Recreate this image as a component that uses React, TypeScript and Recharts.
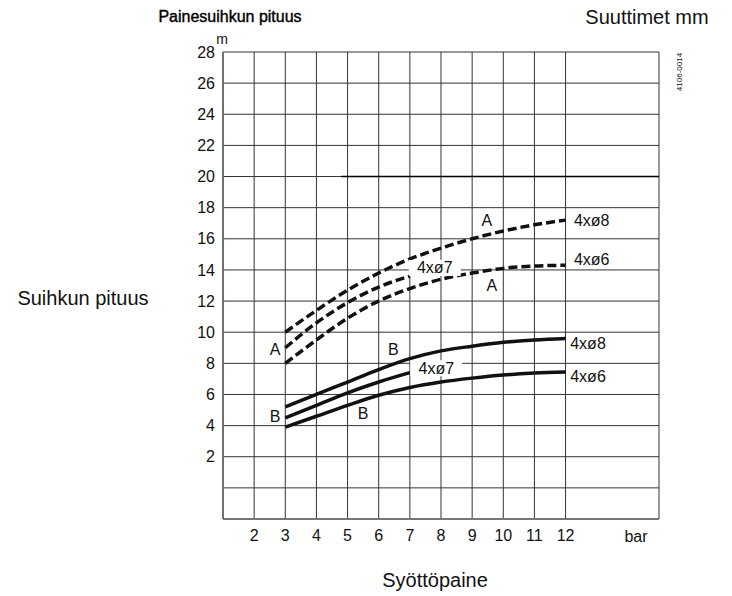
import React from 'react';
import { LineChart, Line, XAxis, YAxis, CartesianGrid, ReferenceLine, ReferenceDot } from 'recharts';

// Pressure (bar)
const pressures = [3, 4, 5, 6, 7, 8, 9, 10, 11, 12];
// Curve A (dashed)
const a8 = [10.0, 11.4, 12.7, 13.8, 14.7, 15.4, 16.0, 16.5, 16.9, 17.2];
const a7 = [9.0, 10.6, 11.9, 12.9, 13.6];
const a6 = [8.0, 9.5, 10.9, 12.0, 12.8, 13.4, 13.8, 14.1, 14.25, 14.3];
// Curve B (solid)
const b8 = [5.2, 6.0, 6.8, 7.6, 8.3, 8.8, 9.1, 9.35, 9.5, 9.6];
const b7 = [4.5, 5.3, 6.1, 6.8, 7.4];
const b6 = [3.9, 4.6, 5.3, 5.95, 6.45, 6.8, 7.05, 7.25, 7.38, 7.45];

const xTicks = [1, 2, 3, 4, 5, 6, 7, 8, 9, 10, 11, 12, 15];
const yTicks = [-2, 0, 2, 4, 6, 8, 10, 12, 14, 16, 18, 20, 22, 24, 26, 28];
const limitLine = [{ x: 4.8, y: 20 }, { x: 15, y: 20 }];

const curveLabels = [
  { x: 2.67, y: 8.86, text: 'A', bg: false },
  { x: 9.47, y: 17.2, text: 'A', bg: false },
  { x: 9.63, y: 13.03, text: 'A', bg: false },
  { x: 7.8, y: 14.13, text: '4xø7', bg: true },
  { x: 12.84, y: 17.2, text: '4xø8', bg: false },
  { x: 12.84, y: 14.64, text: '4xø6', bg: false },
  { x: 6.47, y: 8.86, text: 'B', bg: false },
  { x: 7.85, y: 7.68, text: '4xø7', bg: true },
  { x: 12.72, y: 9.29, text: '4xø8', bg: false },
  { x: 12.72, y: 7.15, text: '4xø6', bg: false },
  { x: 2.67, y: 4.58, text: 'B', bg: false },
  { x: 5.5, y: 4.8, text: 'B', bg: false },
];

const rows = pressures.map((p, i) => ({
  p,
  a8: a8[i],
  a7: a7[i],
  a6: a6[i],
  b8: b8[i],
  b7: b7[i],
  b6: b6[i],
}));

const FONT = '"Liberation Sans", Arial, Helvetica, sans-serif';

const LabelShape = (props: any) => {
  const { cx, cy, text, bg } = props;
  const w = text.length > 1 ? 52 : 12;
  return (
    <g>
      {bg && <rect x={cx - w / 2} y={cy - 8} width={w} height={16} fill="#fff" />}
      <text x={cx} y={cy} textAnchor="middle" dominantBaseline="central" fontSize={16} fill="#111" fontFamily={FONT}>
        {text}
      </text>
    </g>
  );
};

const abs = (x: number, y: number, size: number, extra: React.CSSProperties = {}): React.CSSProperties => ({
  position: 'absolute',
  left: x,
  top: y,
  transform: 'translate(-50%, -50%)',
  fontSize: size,
  lineHeight: 1,
  whiteSpace: 'nowrap',
  color: '#111',
  fontFamily: FONT,
  ...extra,
});

export default function App() {
  const dashed = { stroke: '#111', strokeWidth: 3.5, strokeDasharray: '9 4', dot: false, isAnimationActive: false, type: 'monotone' as const };
  const solid = { stroke: '#111', strokeWidth: 3.5, dot: false, isAnimationActive: false, type: 'monotone' as const };
  return (
    <div style={{ position: 'absolute', left: 0, top: 0, width: 732, height: 596, background: '#fff' }}>
      <LineChart width={732} height={596} data={rows} margin={{ top: 52, right: 73, bottom: 47, left: 163 }}>
        <CartesianGrid stroke="#333" strokeWidth={1} />
        <XAxis
          dataKey="p"
          type="number"
          domain={[1, 15]}
          ticks={xTicks}
          tickFormatter={(v: number) => (v >= 2 && v <= 12 ? String(v) : '')}
          axisLine={{ stroke: '#777', strokeWidth: 2 }}
          tickLine={false}
          tickSize={0}
          tickMargin={11}
          height={30}
          tick={{ fill: '#111', fontSize: 16, fontFamily: FONT }}
          interval={0}
        />
        <YAxis
          type="number"
          domain={[-2, 28]}
          ticks={yTicks}
          tickFormatter={(v: number) => (v > 0 ? String(v) : '')}
          axisLine={{ stroke: '#666', strokeWidth: 1.5 }}
          tickLine={false}
          tickSize={0}
          tickMargin={8}
          width={60}
          tick={{ fill: '#111', fontSize: 16, fontFamily: FONT }}
          interval={0}
        />
        <ReferenceLine segment={limitLine} stroke="#000" strokeWidth={1.5} ifOverflow="visible" />
        <Line dataKey="a8" {...dashed} />
        <Line dataKey="a7" {...dashed} />
        <Line dataKey="a6" {...dashed} />
        <Line dataKey="b8" {...solid} />
        <Line dataKey="b7" {...solid} />
        <Line dataKey="b6" {...solid} />
        {curveLabels.map((l, i) => (
          <ReferenceDot
            key={i}
            x={l.x}
            y={l.y}
            r={1}
            ifOverflow="visible"
            shape={(p: any) => <LabelShape {...p} text={l.text} bg={l.bg} />}
          />
        ))}
      </LineChart>
      <div style={abs(230, 17, 16, { color: '#000', WebkitTextStroke: '0.4px #000' })}>Painesuihkun pituus</div>
      <div style={abs(647, 17, 20)}>Suuttimet mm</div>
      <div style={abs(83, 298, 20)}>Suihkun pituus</div>
      <div style={abs(435, 580, 20)}>Syöttöpaine</div>
      <div style={abs(636, 537, 16)}>bar</div>
      <div style={abs(222, 39, 14)}>m</div>
      <div style={abs(680, 72, 8, { transform: 'translate(-50%, -50%) rotate(-90deg)' })}>4106-0014</div>
    </div>
  );
}
